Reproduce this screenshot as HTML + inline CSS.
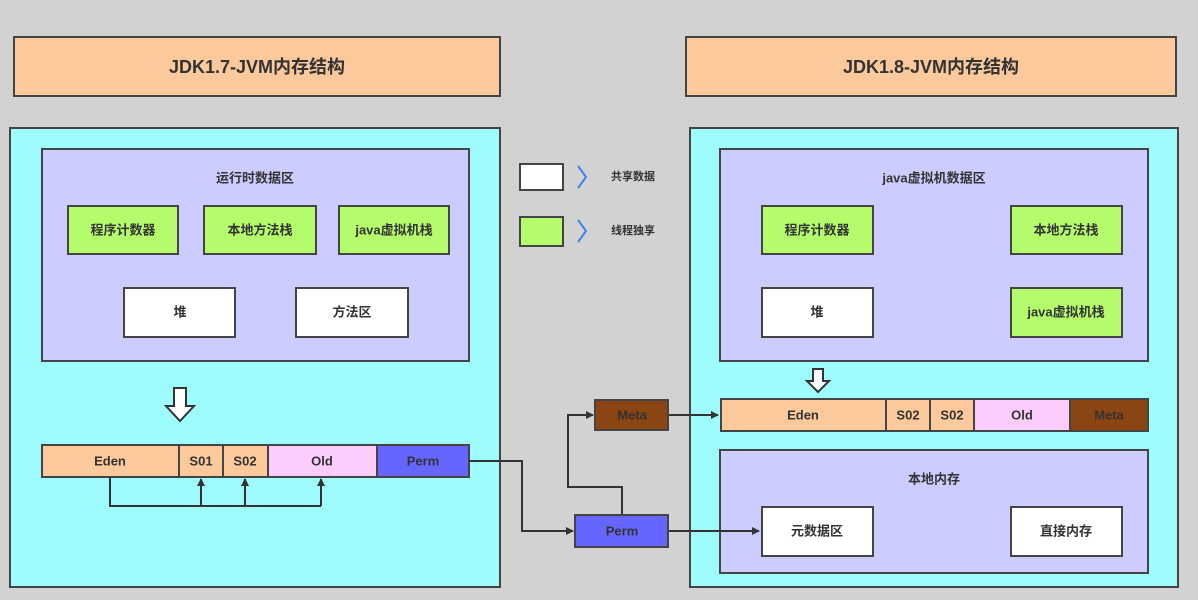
<!DOCTYPE html>
<html><head><meta charset="utf-8"><style>
html,body{margin:0;padding:0;background:#d2d2d2;}
svg{display:block}
text{font-family:"Liberation Sans","Noto Sans CJK SC",sans-serif;font-weight:bold;fill:#333;text-anchor:middle;dominant-baseline:central;font-size:13px}
.b{stroke:#444;stroke-width:2}
.l{stroke:#333;stroke-width:2;fill:none}
</style></head><body>
<svg width="1198" height="600" viewBox="0 0 1198 600">
<defs><marker id="a" markerWidth="8" markerHeight="8" refX="7" refY="4" orient="auto" markerUnits="userSpaceOnUse"><path d="M0,0L8,4L0,8z" fill="#333"/></marker></defs>
<rect width="1198" height="600" fill="#d2d2d2"/>
<rect x="14" y="37" width="486" height="59" fill="#fcc99c" class="b"/>
<text x="257" y="67" style="font-size:18px">JDK1.7-JVM内存结构</text>
<rect x="686" y="37" width="490" height="59" fill="#fcc99c" class="b"/>
<text x="931" y="67" style="font-size:18px">JDK1.8-JVM内存结构</text>
<rect x="10" y="128" width="490" height="459" fill="#9ffcfc" class="b"/>
<rect x="690" y="128" width="488" height="459" fill="#9ffcfc" class="b"/>
<rect x="42" y="149" width="427" height="212" fill="#ccccff" class="b"/>
<text x="255" y="178">运行时数据区</text>
<rect x="68" y="206" width="110" height="48" fill="#b5fc6c" class="b"/><text x="123" y="230">程序计数器</text>
<rect x="204" y="206" width="112" height="48" fill="#b5fc6c" class="b"/><text x="260" y="230">本地方法栈</text>
<rect x="339" y="206" width="110" height="48" fill="#b5fc6c" class="b"/><text x="394" y="230">java虚拟机栈</text>
<rect x="124" y="288" width="111" height="49" fill="#fff" class="b"/><text x="180" y="312">堆</text>
<rect x="296" y="288" width="112" height="49" fill="#fff" class="b"/><text x="352" y="312">方法区</text>
<path d="M174,388H186V406H194L180,421L166,406H174Z" fill="#fff" stroke="#333" stroke-width="2"/>
<rect x="42" y="445" width="137" height="32" fill="#fcc99c" class="b"/><text x="110" y="461">Eden</text>
<rect x="179" y="445" width="44" height="32" fill="#fcc99c" class="b"/><text x="201" y="461">S01</text>
<rect x="223" y="445" width="45" height="32" fill="#fcc99c" class="b"/><text x="245" y="461">S02</text>
<rect x="268" y="445" width="109" height="32" fill="#fcccfc" class="b"/><text x="322" y="461">Old</text>
<rect x="377" y="445" width="92" height="32" fill="#6666ff" class="b"/><text x="423" y="461">Perm</text>
<path class="l" d="M110,477V506H321"/>
<path class="l" d="M201,506V479" marker-end="url(#a)"/>
<path class="l" d="M245,506V479" marker-end="url(#a)"/>
<path class="l" d="M321,506V479" marker-end="url(#a)"/>
<rect x="520" y="164" width="43" height="26" fill="#fff" class="b"/>
<path d="M578,166L586,177L578,188" stroke="#3a86e8" stroke-width="2" fill="none"/>
<text x="633" y="177" style="font-size:11px">共享数据</text>
<rect x="520" y="217" width="43" height="29" fill="#b5fc6c" class="b"/>
<path d="M578,220L586,231L578,242" stroke="#3a86e8" stroke-width="2" fill="none"/>
<text x="633" y="231" style="font-size:11px">线程独享</text>
<rect x="720" y="149" width="428" height="212" fill="#ccccff" class="b"/>
<text x="934" y="178">java虚拟机数据区</text>
<rect x="762" y="206" width="111" height="48" fill="#b5fc6c" class="b"/><text x="817" y="230">程序计数器</text>
<rect x="1011" y="206" width="111" height="48" fill="#b5fc6c" class="b"/><text x="1066" y="230">本地方法栈</text>
<rect x="762" y="288" width="111" height="49" fill="#fff" class="b"/><text x="817" y="312">堆</text>
<rect x="1011" y="288" width="111" height="49" fill="#b5fc6c" class="b"/><text x="1066" y="312">java虚拟机栈</text>
<path d="M813,369H823V381H829L818,392L807,381H813Z" fill="#fff" stroke="#333" stroke-width="2"/>
<rect x="721" y="399" width="165" height="32" fill="#fcc99c" class="b"/><text x="803" y="415">Eden</text>
<rect x="886" y="399" width="44" height="32" fill="#fcc99c" class="b"/><text x="908" y="415">S02</text>
<rect x="930" y="399" width="44" height="32" fill="#fcc99c" class="b"/><text x="952" y="415">S02</text>
<rect x="974" y="399" width="96" height="32" fill="#fcccfc" class="b"/><text x="1022" y="415">Old</text>
<rect x="1070" y="399" width="78" height="32" fill="#8b4513" class="b"/><text x="1109" y="415">Meta</text>
<rect x="720" y="450" width="428" height="123" fill="#ccccff" class="b"/>
<text x="934" y="479">本地内存</text>
<rect x="762" y="507" width="111" height="49" fill="#fff" class="b"/><text x="817" y="531">元数据区</text>
<rect x="1011" y="507" width="111" height="49" fill="#fff" class="b"/><text x="1066" y="531">直接内存</text>
<path class="l" d="M469,461H522V531H573" marker-end="url(#a)"/>
<path class="l" d="M622,515V487H568V415H593" marker-end="url(#a)"/>
<path class="l" d="M668,415H718" marker-end="url(#a)"/>
<path class="l" d="M668,531H759" marker-end="url(#a)"/>
<rect x="595" y="400" width="73" height="30" fill="#8b4513" class="b"/><text x="632" y="415">Meta</text>
<rect x="575" y="515" width="93" height="32" fill="#6666ff" class="b"/><text x="622" y="531">Perm</text>
</svg>
</body></html>
